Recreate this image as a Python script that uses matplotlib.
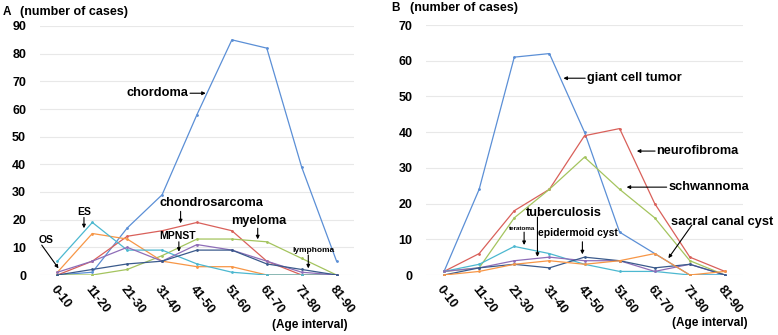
import numpy as np
import matplotlib.pyplot as plt

plt.rcParams['font.family'] = ['Liberation Sans', 'DejaVu Sans']
plt.rcParams['font.weight'] = 'bold'

age_groups = ['0-10', '11-20', '21-30', '31-40', '41-50', '51-60', '61-70', '71-80', '81-90']

# panel A
chordoma = [0, 1, 17, 29, 58, 85, 82, 39, 5]
chondrosarcoma = [0, 5, 14, 16, 19, 16, 5, 0, 0]
myeloma = [0, 0, 2, 7, 13, 13, 12, 6, 0]
os_cases = [1, 15, 13, 5, 3, 3, 0, 0, 0]
es_cases = [5, 19, 9, 9, 4, 1, 0, 0, 0]
mpnst = [1, 5, 10, 5, 11, 9, 5, 1, 0]
lymphoma = [0, 2, 4, 5, 9, 9, 4, 2, 0]

# panel B
giant_cell = [1, 24, 61, 62, 40, 12, 6, 0, 0]
neurofibroma = [1, 6, 18, 24, 39, 41, 20, 5, 1]
schwannoma = [1, 2, 16, 24, 33, 24, 16, 4, 0]
teratoma = [1, 3, 8, 6, 3, 1, 1, 0, 0]
tuberculosis = [1, 2, 4, 5, 4, 4, 1, 3, 0]
epidermoid = [0, 2, 3, 2, 5, 4, 2, 3, 0]
sacral_cyst = [0, 1, 3, 4, 3, 4, 6, 0, 1]

c_blue = '#5B8FD6'
c_red = '#D9605A'
c_green = '#A4C45E'
c_purple = '#8E6DB8'
c_cyan = '#4CB8D0'
c_orange = '#F79646'
c_navy = '#3A5A8C'

W, H = 778, 335
fig = plt.figure(figsize=(W / 100, H / 100), dpi=100)

def px_axes(x0, x1, y0, y1):
    return fig.add_axes([x0 / W, 1 - y1 / H, (x1 - x0) / W, (y1 - y0) / H])

axA = px_axes(40, 354, 26, 275)
axB = px_axes(426.5, 742.5, 25, 275)

x = np.arange(len(age_groups))

def draw(ax, series, ymax):
    for vals, col in series:
        ax.plot(x, vals, color=col, lw=0.9, marker='o', ms=1.0, zorder=3)
    ax.set_xlim(-0.5, 8.5)
    ax.set_ylim(0, ymax)
    ax.set_yticks(np.arange(0, ymax + 1, 10))
    ax.set_xticks(x)
    ax.set_xticklabels(age_groups, rotation=-52, ha='left', rotation_mode='anchor',
                       fontsize=9, fontweight='bold')
    for lab in ax.get_yticklabels():
        lab.set_fontsize(9)
        lab.set_fontweight('bold')
    ax.grid(axis='y', color='#e8e8e8', lw=0.8, zorder=0)
    ax.tick_params(length=0, pad=6)
    for s in ax.spines.values():
        s.set_visible(False)

draw(axA, [(chordoma, c_blue), (chondrosarcoma, c_red), (myeloma, c_green),
           (os_cases, c_orange), (es_cases, c_cyan), (mpnst, c_purple),
           (lymphoma, c_navy)], 90)
draw(axB, [(giant_cell, c_blue), (neurofibroma, c_red), (schwannoma, c_green),
           (teratoma, c_cyan), (tuberculosis, c_purple), (epidermoid, c_navy),
           (sacral_cyst, c_orange)], 70)
axA.tick_params(axis='y', pad=10)
axB.tick_params(axis='y', pad=10)

ap = dict(arrowstyle='-|>', color='black', lw=0.8, mutation_scale=5, shrinkA=0, shrinkB=0)

def note(ax, txt, tx, ty, ax0, ay0, ax1, ay1, fs=9):
    ax.text(tx, ty, txt, fontsize=fs, fontweight='bold', ha='center', va='center', zorder=5)
    ax.annotate('', xy=(ax1, ay1), xytext=(ax0, ay0), arrowprops=ap)

note(axA, 'chordoma', 2.86, 65.7, 3.8, 65.7, 4.25, 65.7, fs=9.2)
note(axA, 'chondrosarcoma', 4.42, 26, 3.53, 23, 3.53, 18.7, fs=9.2)
note(axA, 'myeloma', 5.78, 19.5, 5.74, 16.9, 5.74, 12.9, fs=9.2)
note(axA, 'MPNST', 3.43, 14.1, 3.48, 12, 3.48, 8.4, fs=7.5)
note(axA, 'lymphoma', 7.33, 8.8, 7.19, 7.2, 7.19, 2.4, fs=6)
note(axA, 'ES', 0.77, 22.9, 0.76, 20.8, 0.76, 16.9, fs=7.5)
note(axA, 'OS', -0.32, 12.6, -0.45, 10.8, 0.03, 2.4, fs=7.5)

note(axB, 'giant cell tumor', 5.41, 55.1, 4.02, 55.1, 3.4, 55.1, fs=9.2)
note(axB, 'neurofibroma', 7.22, 34.7, 6.01, 34.7, 5.49, 34.7, fs=9.2)
note(axB, 'schwannoma', 7.53, 24.6, 6.34, 24.6, 5.2, 24.6, fs=9.2)
note(axB, 'sacral canal cyst', 7.93, 14.9, 7.06, 14, 6.39, 4.7, fs=9.2)
note(axB, 'tuberculosis', 3.42, 17.3, 2.66, 16.2, 2.66, 5.1, fs=9.2)
note(axB, 'teratoma', 2.22, 12.9, 2.28, 12, 2.28, 8.4, fs=4.5)
note(axB, 'epidermoid cyst', 3.80, 11.8, 3.94, 9.3, 3.94, 5.8, fs=7.5)

def ftext(px, py, s, fs, ha='left'):
    fig.text(px / W, 1 - py / H, s, fontsize=fs, fontweight='bold', ha=ha, va='center')

ftext(3, 12, 'A', 8.5)
ftext(20, 12, '(number of cases)', 9)
ftext(391, 8, 'B', 8.5)
ftext(410, 8, '(number of cases)', 9)
ftext(348, 325, '(Age interval)', 8.5, ha='right')
ftext(748, 323, '(Age interval)', 8.5, ha='right')

fig.savefig('out.png', dpi=100)
